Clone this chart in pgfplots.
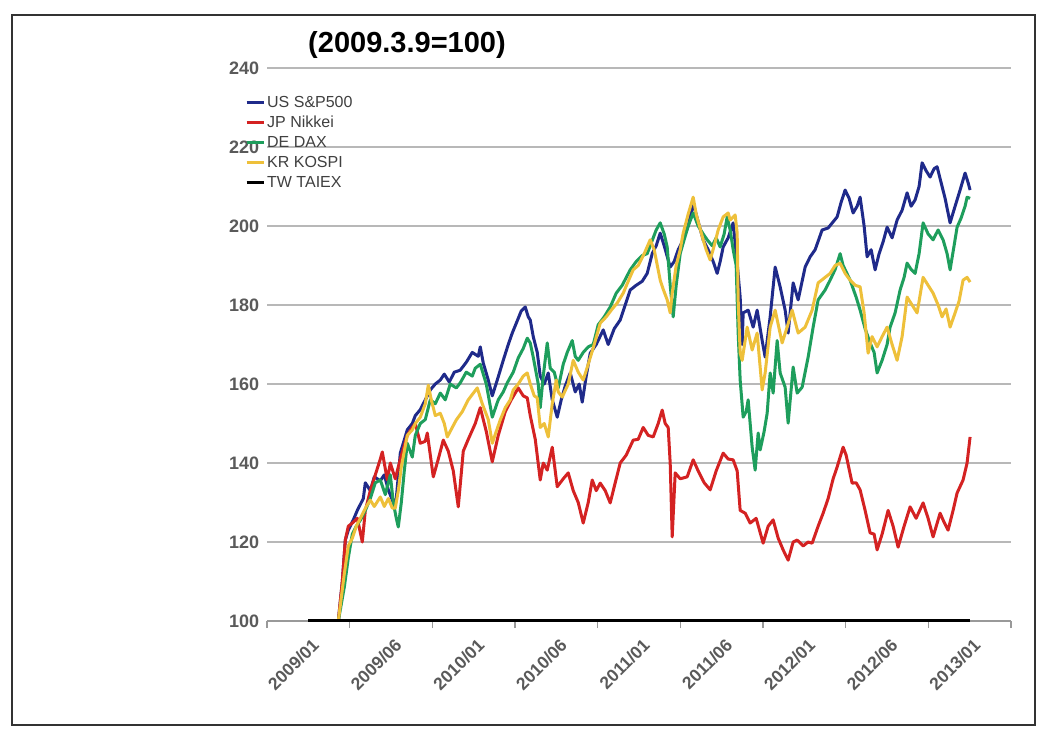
\documentclass[border=0pt]{standalone}
\usepackage{pgfplots}
\pgfplotsset{compat=1.18}
\usepackage{fontspec}
\setmainfont{Liberation Sans}
\definecolor{usblue}{HTML}{1F2A8A}
\definecolor{jpred}{HTML}{D42222}
\definecolor{degreen}{HTML}{1E9E5C}
\definecolor{krgold}{HTML}{EEC03A}
\definecolor{gridgray}{HTML}{B8B8B8}
\definecolor{labgray}{HTML}{5A5A5A}
\begin{document}
\begin{tikzpicture}
\useasboundingbox[fill=white] (-267pt,-108pt) rectangle (781pt,621pt);
\draw[line width=1.5pt, black!80] (-255pt,-104pt) rectangle (768pt,606pt);
\begin{axis}[
  scale only axis, width=744pt, height=553pt,
  xmin=-41.35, xmax=702.95, ymin=100, ymax=240,
  axis lines*=left,
  x axis line style={-, draw=gray!80, line width=1.5pt},
  y axis line style={draw=none},
  ytick={100,120,...,240},
  ymajorgrids, major grid style={gridgray, line width=2pt},
  ytick style={draw=none},
  xtick={0,82.7,165.4,248.1,330.8,413.5,496.2,578.9,661.6},
  xticklabels={2009/01,2009/06,2010/01,2010/06,2011/01,2011/06,2012/01,2012/06,2013/01},
  minor xtick={-41.35,41.35,124.05,206.75,289.45,372.15,454.85,537.55,620.25,702.95},
  major x tick style={draw=none},
  minor x tick style={draw=gray!80, line width=1.2pt},
  minor tick length=7pt, tick align=outside,
  /pgf/number format/assume math mode=true,
  yticklabel style={font=\fontsize{18}{20}\selectfont\bfseries, text=labgray},
  xticklabel style={font=\fontsize{17.5}{19}\selectfont\bfseries, text=labgray, rotate=45, anchor=north east, yshift=-7pt, xshift=-3pt},
  legend style={at={(-0.0296,0.953)}, anchor=north west, draw=none, fill=none,
    font=\fontsize{16}{18}\selectfont, text=black!75, row sep=3.3pt, inner sep=0pt,
    cells={anchor=west}},
  legend image code/.code={\draw[#1, line width=3pt] (0pt,0pt) -- (17pt,0pt);},
  every axis plot/.append style={line width=3pt, line join=round, mark=none},
]
\addplot[usblue] coordinates {
(30,100)(34,110)(37,120.5)(40,123)(45,125.6)(49,128)(55,131)(57,135)(62,133)(66,136.5)(72,135.5)(76,137)(80,133.2)(85,130)(88,131)(92,142.5)(99,148.4)(104,150)(107,152)(112,153.5)(117,156)(122,158.5)(127,160)(132,161)(136,162.5)(141,160.5)(146,163)(152,163.5)(158,165.5)(164,168)(170,167)(172,169.4)(175,165.3)(180,161)(184,157)(189,161)(195,166)(200,170)(204,172.9)(209,176)(213,178.5)(217,179.5)(220,177)(222,176.2)(225,172)(229,168)(232,162)(236,160)(240,162.8)(244,156)(249,151.6)(253,156)(257,159.5)(262,162.8)(267,158)(271,160)(274,155.4)(278,162)(282,167.8)(288,170)(295,173.7)(300,170)(306,174)(312,176.2)(317,180)(322,183.8)(328,185)(334,186)(339,188)(344,193)(348,195)(352,198.2)(356,195)(362,189.6)(366,191)(370,194)(375,196.5)(380,200)(385,205.8)(389,202)(395,196.5)(400,194)(405,191)(409,188)(412,191)(415,194.7)(420,197)(425,200.8)(429,190.6)(432,182)(434,170)(435,178)(440,178.7)(445,174.4)(449,178.7)(454,171)(457,166.8)(462,177)(467,189.6)(472,184.6)(477,178.7)(480,172.9)(485,185.6)(490,181.3)(497,189.6)(502,192.2)(507,194)(514,199)(520,199.5)(529,202.3)(533,206)(537,209.1)(541,207)(545,203.3)(549,205)(552,207.3)(556,200)(559,192.2)(563,194)(567,188.9)(571,193)(575,196)(579,199.7)(584,197)(589,201.5)(594,204)(599,208.4)(603,205)(607,206.6)(611,210)(614,216)(618,214)(622,212.4)(626,214.5)(629,215)(633,211)(637,207)(642,200.8)(647,205)(652,209.1)(657,213.4)(660,211)(662,209.1)
};
\addlegendentry{US S\&P500}
\addplot[jpred] coordinates {
(30,100)(34,110)(37,120.5)(40,124)(45,125)(49,126)(54,120)(57,128)(62,133)(67,137)(72,141)(74,142.8)(79,135.7)(82,140)(87,136)(92,141)(99,147)(104,149)(107,150)(112,145)(117,145.5)(119,147.6)(125,136.5)(130,141)(135,145.8)(140,143)(145,138)(150,128.9)(155,143)(160,146)(167,150)(172,154)(178,148)(184,140.3)(190,147)(197,153)(203,156)(210,159)(215,157)(219,156.5)(222,152)(227,146)(232,135.7)(235,140)(239,138.2)(244,144)(249,134)(255,136)(260,137.5)(265,133)(270,130)(275,124.8)(280,130)(284,135.7)(288,133)(292,134.9)(297,133)(302,129.9)(307,135)(312,140)(318,142)(325,145.8)(330,146)(335,149)(340,147)(345,146.6)(350,150)(354,153.4)(357,150)(360,149)(362,140)(364,121.3)(367,137.5)(372,136)(379,136.5)(385,140.8)(390,138)(396,135)(402,133.2)(408,138)(415,142.5)(420,141)(425,140.8)(429,138)(432,128)(437,127.3)(442,124.8)(448,126)(455,119.7)(460,124)(465,125.6)(470,121)(475,118)(480,115.4)(485,120)(489,120.5)(495,119)(500,120)(504,119.7)(510,124)(515,127.3)(520,131)(525,136)(529,139)(535,144)(538,142)(544,134.9)(548,135)(552,133.2)(557,128)(562,122.3)(566,122)(569,118)(574,122)(580,128)(585,124)(590,118.7)(596,124)(602,128.9)(608,126)(615,129.9)(620,126)(625,121.3)(632,127.3)(636,125)(640,123)(645,128)(649,132.4)(655,135.7)(659,140)(662,146.6)
};
\addlegendentry{JP Nikkei}
\addplot[degreen] coordinates {
(30,100)(36,108.6)(40,116)(44,122)(48,124)(52,125.5)(57,128)(62,131)(67,135)(72,135.7)(77,132)(82,137)(85,130)(88,126)(90,123.8)(93,130)(96,138)(99,145)(104,141.5)(107,147)(112,150)(117,151)(122,156)(127,155)(132,157.7)(137,156)(142,160)(148,159)(152,160.3)(158,163)(164,162)(167,164)(172,165)(178,160)(184,151.6)(190,156)(195,158)(199,160.3)(205,163)(210,166.6)(215,169)(219,171.6)(222,170.4)(225,166.8)(230,160)(232,154)(235,162)(239,170.4)(242,164)(246,163)(250,159)(255,165)(259,168)(264,171)(267,167)(270,166)(275,168)(280,169.4)(285,170)(290,175)(296,177)(302,179.5)(308,183)(314,185)(322,188.9)(328,191)(334,192.5)(339,193)(345,197)(348,199)(352,200.8)(356,198)(359,194.7)(362,185)(365,177)(368,185)(372,193)(375,195.7)(380,200)(385,203.3)(390,200)(395,198)(399,196.5)(404,195)(408,197)(412,194.7)(416,198)(419,202.3)(422,199)(425,194)(428,190)(430,172.9)(432,161)(435,151.6)(438,153)(440,156)(442,150)(444,144)(447,138.2)(450,147.6)(452,143.3)(456,148)(459,152.6)(462,162.8)(465,157.7)(469,171)(472,162.8)(477,159.2)(480,150.1)(485,164.3)(489,157.7)(494,159.2)(500,166.8)(505,174.4)(510,181.3)(517,183.8)(522,186.3)(527,189)(532,193)(535,190)(542,186.3)(548,182)(552,178.7)(557,174)(562,170.4)(566,168)(569,162.8)(574,166)(579,170)(582,174.4)(587,178)(592,183.8)(596,187)(599,190.6)(603,189)(607,188)(611,193)(615,200.8)(620,198)(625,196.5)(630,199)(635,196.5)(639,193)(642,188.9)(646,195)(649,199.7)(653,202)(657,205)(659,207.3)(662,207)
};
\addlegendentry{DE DAX}
\addplot[krgold] coordinates {
(30,100)(36,112)(40,119)(44,121)(48,124)(53,126.5)(58,129)(62,130.6)(66,129)(72,131.4)(76,129)(80,131)(84,128.6)(87,128.6)(90,133)(93,139)(99,147)(104,148.4)(107,150)(112,151.6)(117,155)(120,159.7)(123,156)(127,152)(132,152.6)(136,150)(139,146.6)(144,149)(148,150.9)(154,153)(160,156)(166,158)(169,159)(174,155)(180,151)(184,145)(188,148)(192,150.9)(197,154)(202,156)(205,158.5)(210,160)(215,162)(219,162.8)(222,160)(226,157)(229,156.5)(232,149)(236,150)(240,146.6)(244,155)(248,161)(250,158)(254,156.7)(260,160)(265,166)(270,163)(275,161)(280,165)(286,170)(292,175.4)(298,177)(304,179)(309,180.5)(315,183)(320,186)(325,188.9)(330,190)(336,193)(342,196.5)(346,194)(352,186.3)(355,184)(359,181.3)(362,178)(364,183)(368,190)(372,194)(375,198.2)(380,203)(385,207.3)(388,203)(395,196.5)(398,194)(402,191.4)(406,195)(410,199)(415,202.3)(420,203.3)(422,201.5)(427,202.8)(429,198.2)(430,181.3)(432,167.8)(434,166)(439,174.4)(444,168.6)(449,172.9)(454,158.5)(457,162.8)(462,174.4)(467,178.7)(474,170.4)(479,174.4)(484,178.7)(490,172.9)(497,174.4)(504,178.7)(510,185.6)(517,187)(522,188)(527,190)(532,190.6)(537,188)(542,186.3)(547,185)(552,184.6)(556,178)(560,167.8)(564,172)(569,169.4)(574,172)(579,174.4)(584,170)(589,166)(594,172)(599,182)(604,180)(609,178)(615,187)(620,185)(625,183)(630,180)(634,177)(638,179)(642,174.4)(647,178)(651,181)(655,186.3)(659,187)(662,185.8)
};
\addlegendentry{KR KOSPI}
\addplot[black, line width=4pt] coordinates {(0,100)(662,100)};
\addlegendentry{TW TAIEX}
\end{axis}
\node[font=\fontsize{29}{31}\selectfont\bfseries] at (140pt,576pt) {(2009.3.9=100)};
\end{tikzpicture}
\end{document}
